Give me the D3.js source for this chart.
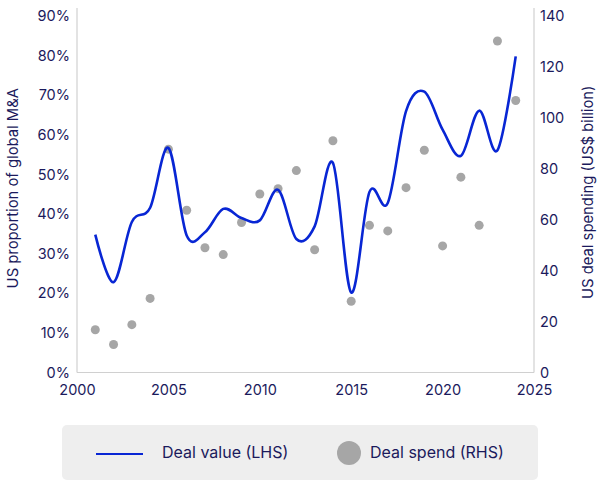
<!DOCTYPE html>
<html>
<head>
<meta charset="utf-8">
<script src="https://cdn.jsdelivr.net/npm/d3@7"></script>
<style>
  html, body { margin: 0; padding: 0; background: #fff; }
  svg { display: block; font-family: Inter, "Noto Sans", sans-serif; }
</style>
</head>
<body>
<svg id="chart" width="601" height="485"></svg>
<script>
const years = [2001,2002,2003,2004,2005,2006,2007,2008,2009,2010,2011,2012,2013,2014,2015,2016,2017,2018,2019,2020,2021,2022,2023,2024];
const dealValuePct = [34.8,22.8,38.0,41.6,56.7,34.6,35.4,41.3,39.0,38.4,46.1,33.7,36.9,52.9,20.2,45.6,42.8,66.0,70.9,61.3,54.7,66.1,56.1,79.8];
const dealSpend = [16.8,11.0,18.8,29.1,87.7,63.7,49.0,46.3,58.9,70.1,72.2,79.3,48.2,91.0,28.0,57.8,55.6,72.6,87.3,49.7,76.7,57.8,130.2,106.8];
const xTicks = [2000,2005,2010,2015,2020,2025];
const leftTicks = [0,10,20,30,40,50,60,70,80,90];
const rightTicks = [0,20,40,60,80,100,120,140];
const legendLabels = ["Deal value (LHS)", "Deal spend (RHS)"];
const leftTitle = "US proportion of global M&A";
const rightTitle = "US deal spending (US$ billion)";

const textColor = "#1b1a5c";
const lineColor = "#0826d4";
const dotColor = "#a6a6a6";
const axisColor = "#d0d0d0";

const svg = d3.select("#chart");
const mLeft = 77, mRight = 534, mTop = 16, mBottom = 372.5;

const x = d3.scaleLinear().domain([2000, 2025]).range([mLeft, mRight]);
const yL = d3.scaleLinear().domain([0, 90]).range([mBottom, mTop]);
const yR = d3.scaleLinear().domain([0, 140]).range([mBottom, mTop]);

// axis lines
svg.append("line").attr("x1", mLeft).attr("x2", mLeft).attr("y1", 8).attr("y2", mBottom)
  .attr("stroke", axisColor).attr("stroke-width", 1.2);
svg.append("line").attr("x1", mRight).attr("x2", mRight).attr("y1", 8).attr("y2", mBottom)
  .attr("stroke", axisColor).attr("stroke-width", 1.2);
svg.append("line").attr("x1", mLeft).attr("x2", mRight).attr("y1", mBottom).attr("y2", mBottom)
  .attr("stroke", axisColor).attr("stroke-width", 1.2);

// left axis
const gL = svg.append("g").attr("transform", `translate(${mLeft},0)`)
  .call(d3.axisLeft(yL).tickValues(leftTicks).tickSize(0).tickPadding(7).tickFormat(d => d + "%"));
gL.select(".domain").remove();
gL.selectAll("text").attr("fill", textColor).style("font-size", "14.5px").style("font-family", "Inter, sans-serif");

// right axis
const gR = svg.append("g").attr("transform", `translate(${mRight},0)`)
  .call(d3.axisRight(yR).tickValues(rightTicks).tickSize(0).tickPadding(6));
gR.select(".domain").remove();
gR.selectAll("text").attr("fill", textColor).style("font-size", "14.5px").style("font-family", "Inter, sans-serif");

// bottom axis
const gB = svg.append("g").attr("transform", `translate(0,${mBottom})`)
  .call(d3.axisBottom(x).tickValues(xTicks).tickSize(0).tickPadding(12).tickFormat(d3.format("d")));
gB.select(".domain").remove();
gB.selectAll("text").attr("fill", textColor).style("font-size", "14.5px").style("font-family", "Inter, sans-serif");

// axis titles
svg.append("text").attr("transform", `translate(14,${(mTop + mBottom) / 2 - 6}) rotate(-90)`)
  .attr("text-anchor", "middle").attr("dominant-baseline", "middle")
  .attr("fill", textColor).style("font-size", "14.8px").text(leftTitle);
svg.append("text").attr("transform", `translate(589,${(mTop + mBottom) / 2 - 2}) rotate(-90)`)
  .attr("text-anchor", "middle").attr("dominant-baseline", "middle")
  .attr("fill", textColor).style("font-size", "14.8px").text(rightTitle);

// dots
svg.append("g").selectAll("circle").data(years).join("circle")
  .attr("cx", d => x(d)).attr("cy", (d, i) => yR(dealSpend[i])).attr("r", 4.5)
  .attr("fill", dotColor);

// line
const line = d3.line().x(d => x(d[0])).y(d => yL(d[1])).curve(d3.curveCatmullRom.alpha(0));
svg.append("path").datum(years.map((yr, i) => [yr, dealValuePct[i]]))
  .attr("d", line).attr("fill", "none").attr("stroke", lineColor).attr("stroke-width", 2.6)
  .attr("stroke-linejoin", "round");

// legend
const lg = svg.append("g");
lg.append("rect").attr("x", 62).attr("y", 425).attr("width", 476).attr("height", 55).attr("rx", 5)
  .attr("fill", "#eeeeee");
lg.append("line").attr("x1", 96).attr("x2", 143).attr("y1", 454).attr("y2", 454)
  .attr("stroke", lineColor).attr("stroke-width", 2);
lg.append("text").attr("x", 162).attr("y", 454).attr("dominant-baseline", "middle")
  .attr("fill", textColor).style("font-size", "16px").text(legendLabels[0]);
lg.append("circle").attr("cx", 349).attr("cy", 453).attr("r", 12).attr("fill", dotColor);
lg.append("text").attr("x", 370).attr("y", 454).attr("dominant-baseline", "middle")
  .attr("fill", textColor).style("font-size", "16px").text(legendLabels[1]);
</script>
</body>
</html>
